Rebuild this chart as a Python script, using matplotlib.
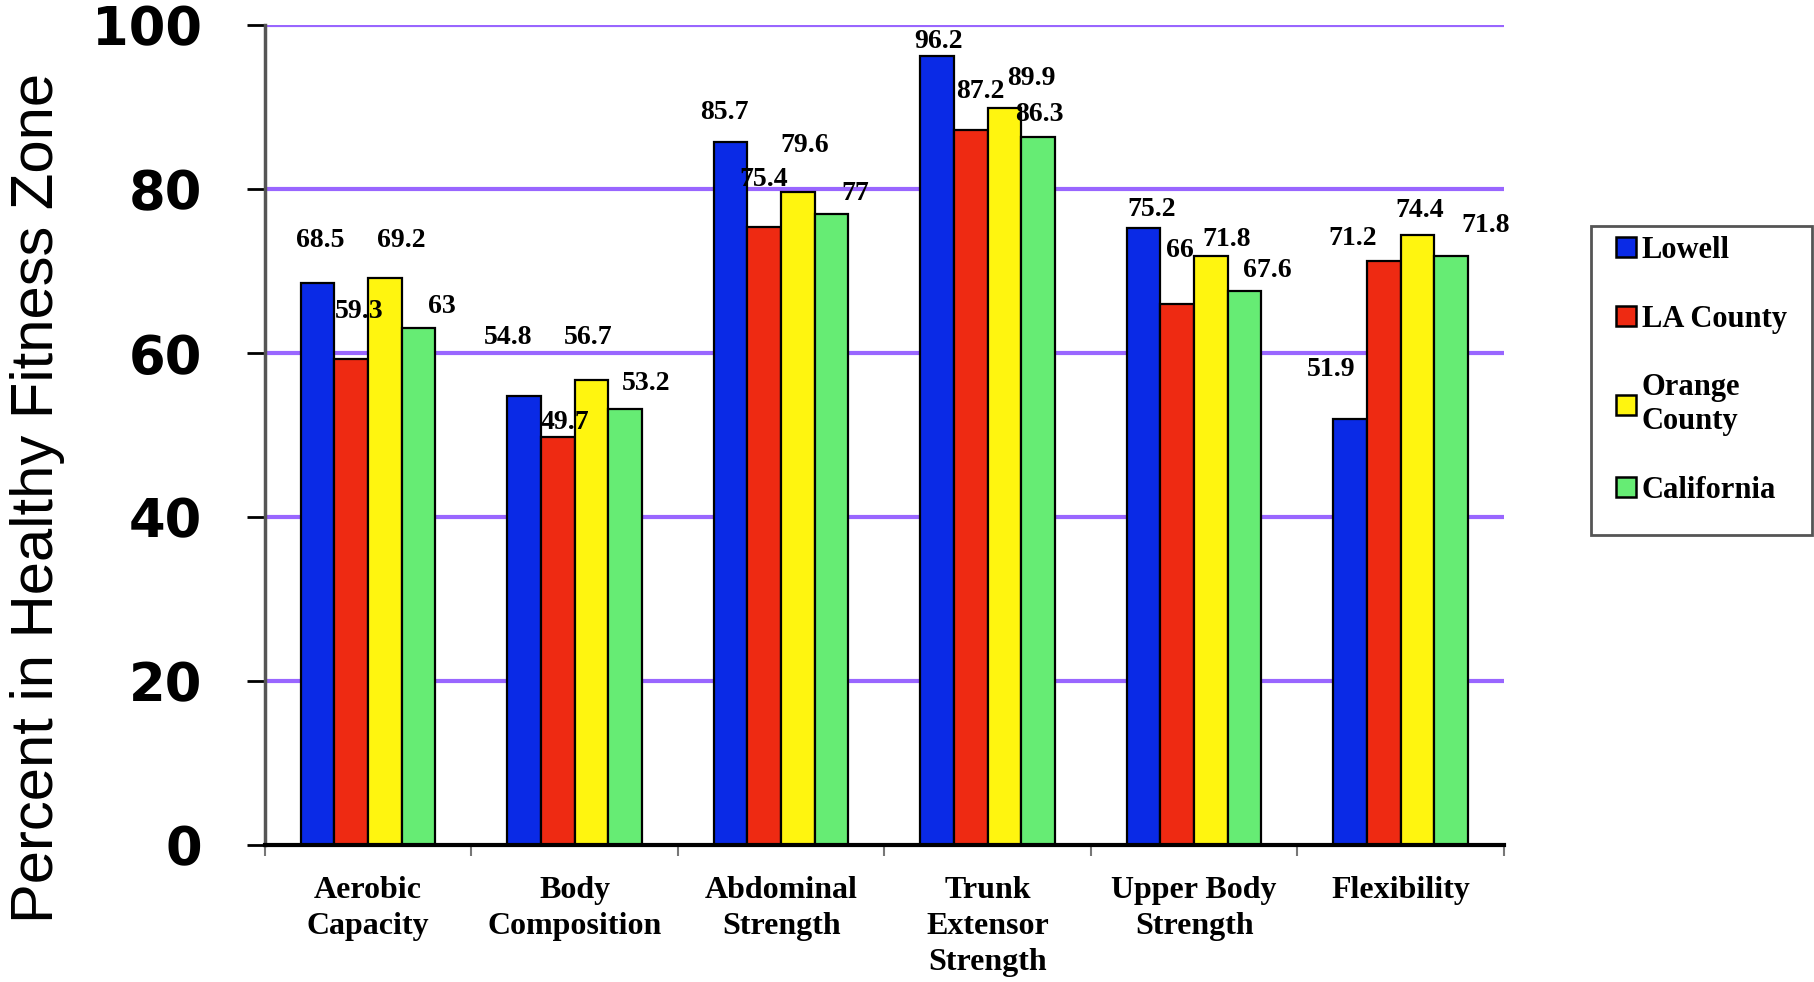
import numpy as np
import matplotlib.pyplot as plt
from matplotlib.patches import Rectangle

categories = ['Aerobic\nCapacity', 'Body\nComposition', 'Abdominal\nStrength',
              'Trunk\nExtensor\nStrength', 'Upper Body\nStrength', 'Flexibility']
series = ['Lowell', 'LA County', 'Orange\nCounty', 'California']
lowell = [68.5, 54.8, 85.7, 96.2, 75.2, 51.9]
la_county = [59.3, 49.7, 75.4, 87.2, 66, 71.2]
orange_county = [69.2, 56.7, 79.6, 89.9, 71.8, 74.4]
california = [63, 53.2, 77, 86.3, 67.6, 71.8]
yticks = [0, 20, 40, 60, 80, 100]

colors = ['#0a2ae6', '#ee2a12', '#fff50f', '#66ec74']

# where each value label sits relative to its bar top (pixels, dx / dy)
label_offsets = [
    [(3, 43), (8, 47), (16, 37), (23, 22)],
    [(-16, 58), (7, 15), (-3, 43), (21, 25)],
    [(-6, 30), (-1, 47), (7, 47), (24, 20)],
    [(1, 15), (10, 38), (27, 29), (1, 23)],
    [(8, 19), (3, 53), (16, 17), (23, 20)],
    [(-19, 50), (-31, 23), (2, 24), (35, 31)],
]

serif = 'Liberation Serif'

fig = plt.figure(figsize=(18.14, 9.82), dpi=100)
ax = fig.add_axes([0.146, 0.1395, 0.683, 0.835])

x = np.arange(len(categories))
w = 0.163
values = [lowell, la_county, orange_county, california]
for k, (vals, c, name) in enumerate(zip(values, colors, series)):
    xs = x + (k - 1.5) * w
    bars = ax.bar(xs, vals, w, color=c, edgecolor='black', linewidth=1.6,
                  label=name, zorder=3)
    for i, (b, v) in enumerate(zip(bars, vals)):
        dx, dy = label_offsets[i][k]
        ax.annotate(f'{v:g}', (b.get_x() + b.get_width() / 2, v),
                    xytext=(dx, dy), textcoords='offset pixels',
                    ha='center', va='center', fontsize=20,
                    fontweight='bold', family=serif, zorder=5)

ax.set_xlim(-0.5, len(categories) - 0.5)
ax.set_ylim(0, 100)

# purple gridlines
for yv in yticks[1:]:
    ax.axhline(yv, color='#9966ff', linewidth=3, zorder=1)

ax.set_yticks(yticks)
ax.set_yticklabels([str(t) for t in yticks], fontsize=38, fontweight='heavy',
                   family='DejaVu Sans')
ax.tick_params(axis='y', direction='out', length=13, width=2, color='black', pad=32)

ax.set_xticks(x)
ax.set_xticklabels(categories, fontsize=23, fontweight='bold', family=serif,
                   linespacing=1.32, va='top')
ax.tick_params(axis='x', length=0, pad=22)
ax.set_xticks(np.arange(-0.5, len(categories)), minor=True)
ax.tick_params(axis='x', which='minor', direction='out', length=8, width=1.5,
               color='#777777')

ax.spines['top'].set_visible(False)
ax.spines['right'].set_visible(False)
ax.spines['left'].set_color('#555555')
ax.spines['left'].set_linewidth(2.5)
ax.spines['bottom'].set_color('black')
ax.spines['bottom'].set_linewidth(3)
ax.spines['bottom'].set_zorder(4)

fig.text(0.0205, 0.493, 'Percent in Healthy Fitness Zone', rotation=90,
         ha='center', va='center', fontsize=43, family='Liberation Sans')

# legend, with its own frame drawn separately
leg = fig.legend(loc='upper left', frameon=False,
                 prop={'family': serif, 'weight': 'bold', 'size': 22},
                 handlelength=0.65, handleheight=0.65, handletextpad=0.2,
                 labelspacing=1.3, borderaxespad=0, borderpad=0)
for h in leg.legend_handles:
    h.set_linewidth(1.8)
leg.set_bbox_to_anchor((1616 / 1814, 1 - 236 / 982), transform=fig.transFigure)
fig.add_artist(Rectangle((1591 / 1814, 1 - 535 / 982), 221 / 1814, 309 / 982,
                         transform=fig.transFigure, fill=False,
                         edgecolor='#555555', linewidth=2))

fig.savefig('out.png', dpi=100)
